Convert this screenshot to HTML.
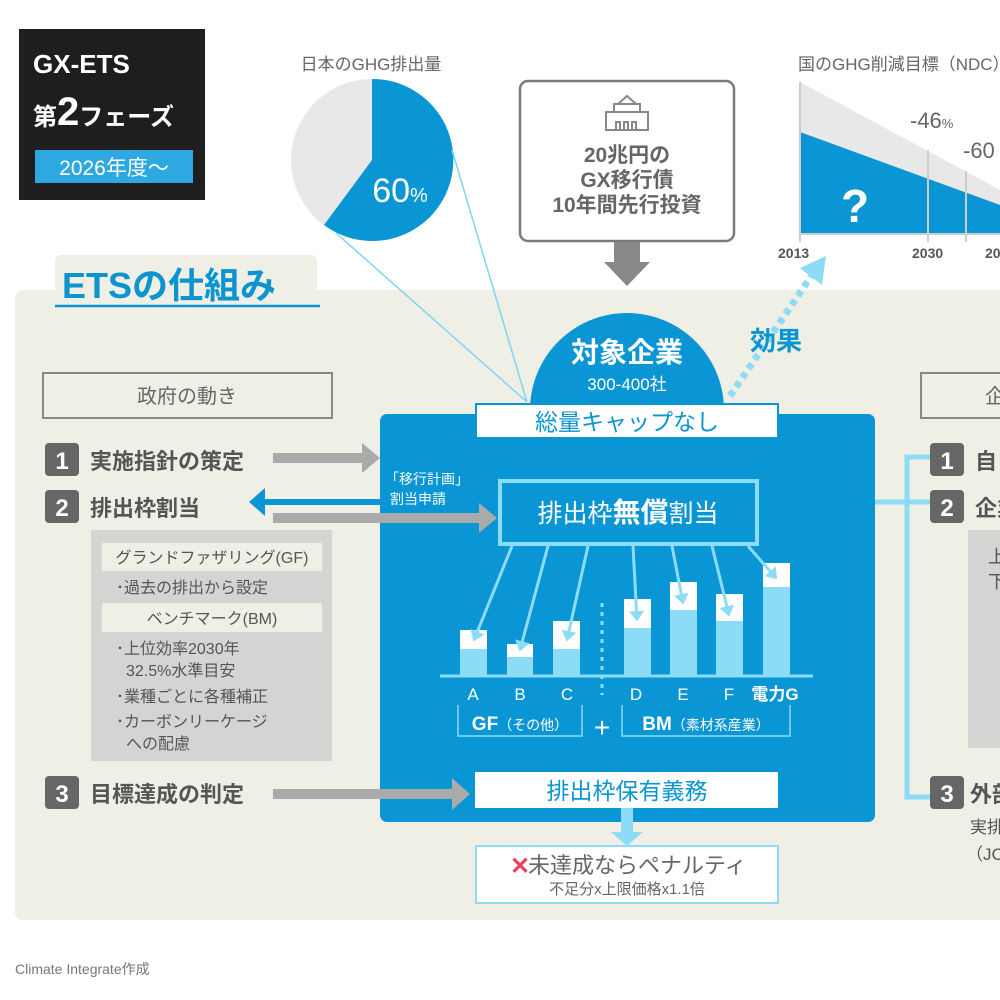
<!DOCTYPE html>
<html><head><meta charset="utf-8"><style>
html,body{margin:0;padding:0;background:#fff;}
svg{display:block;font-family:"Liberation Sans","Noto Sans CJK JP",sans-serif;}
</style></head><body>
<svg width="1000" height="1000" viewBox="0 0 1000 1000" xmlns="http://www.w3.org/2000/svg">
<defs>
<marker id="al" markerWidth="5" markerHeight="5" refX="3" refY="2.5" orient="auto" markerUnits="strokeWidth"><path d="M0,0 L3.5,2.5 L0,5 Z" fill="#8ddcf7"/></marker>
</defs>

<rect x="19" y="29" width="186" height="171" fill="#1e1e1e"/>
<text x="33" y="73" fill="#fff" font-size="26" font-weight="bold">GX-ETS</text>
<text x="33" y="125" fill="#fff" font-size="24" font-weight="bold">第<tspan font-size="40">2</tspan>フェーズ</text>
<rect x="35" y="150" width="158" height="33" fill="#2ea8e0"/>
<text x="114" y="175" fill="#fff" font-size="21" text-anchor="middle">2026年度〜</text>

<text x="371" y="70" fill="#666" font-size="17" text-anchor="middle">日本のGHG排出量</text>
<circle cx="372" cy="160" r="81" fill="#e8e8e8"/>
<path d="M372,160 L372,79 A81,81 0 1,1 324,225 Z" fill="#0a96d4"/>
<text x="400" y="202" fill="#fff" font-size="34" text-anchor="middle">60<tspan font-size="20">%</tspan></text>

<rect x="520" y="81" width="214" height="160" rx="8" fill="#fff" stroke="#7a7a7a" stroke-width="2.5"/>
<g fill="none" stroke="#888" stroke-width="2">
<rect x="606" y="112" width="42" height="18"/><path d="M614,112 v-8 h26 v8 M618,104 l9,-8 l9,8"/><path d="M616,130 v-8 h4 v8 M624,130 v-8 h4 v8 M632,130 v-8 h4 v8"/>
</g>
<text x="627" y="162" fill="#666" font-size="21" font-weight="bold" text-anchor="middle">20兆円の</text>
<text x="627" y="187" fill="#666" font-size="21" font-weight="bold" text-anchor="middle">GX移行債</text>
<text x="627" y="212" fill="#666" font-size="21" font-weight="bold" text-anchor="middle">10年間先行投資</text>
<path d="M614,242 h26 v20 h10 l-23,24 l-23,-24 h10 Z" fill="#888"/>

<text x="798" y="70" fill="#666" font-size="17">国のGHG削減目標（NDC）</text>
<path d="M800,82 L1000,190 L1000,233 L800,233 Z" fill="#e8e8e8"/>
<path d="M800,132 L1000,205 L1000,233 L800,233 Z" fill="#0a96d4"/>
<g stroke="#ccc" stroke-width="2"><line x1="800" y1="82" x2="800" y2="242"/><line x1="928" y1="150" x2="928" y2="242"/><line x1="966" y1="171" x2="966" y2="242"/><line x1="800" y1="234" x2="1000" y2="234"/></g>
<text x="855" y="222" fill="#fff" font-size="46" font-weight="bold" text-anchor="middle">?</text>
<text x="910" y="128" fill="#666" font-size="22">-46<tspan font-size="13">%</tspan></text>
<text x="963" y="158" fill="#666" font-size="22">-60</text>
<g fill="#555" font-size="14" font-weight="bold"><text x="778" y="258">2013</text><text x="912" y="258">2030</text><text x="985" y="258">20</text></g>

<rect x="15" y="290" width="1000" height="630" rx="8" fill="#efefe6"/>
<rect x="55" y="255" width="262" height="40" rx="6" fill="#efefe6"/>
<text x="62" y="298" fill="#0a95d0" font-size="36" font-weight="bold">ETSの仕組み</text>
<line x1="55" y1="306" x2="320" y2="306" stroke="#0a95d0" stroke-width="2.5"/>

<line x1="336" y1="233" x2="527" y2="402" stroke="#7dd6f5" stroke-width="1.5"/>
<line x1="452" y1="150" x2="527" y2="402" stroke="#7dd6f5" stroke-width="1.5"/>

<line x1="730" y1="396" x2="812" y2="275" stroke="#8ddcf7" stroke-width="7" stroke-dasharray="6,5"/>
<path d="M800,268 L826,256 L822,285 Z" fill="#8ddcf7"/>
<text x="750" y="350" fill="#0a95d0" font-size="26" font-weight="bold">効果</text>

<rect x="380" y="414" width="495" height="408" rx="7" fill="#0a96d4"/>
<path d="M530,410 A97,97 0 0,1 724,410 Z" fill="#0a96d4"/>
<text x="627" y="362" fill="#fff" font-size="28" font-weight="bold" text-anchor="middle">対象企業</text>
<text x="627" y="390" fill="#fff" font-size="17" text-anchor="middle">300-400社</text>
<rect x="476" y="404" width="302" height="34" fill="#fff" stroke="#0a96d4" stroke-width="2"/>
<text x="627" y="430" fill="#0a95d0" font-size="23" text-anchor="middle">総量キャップなし</text>

<text x="385" y="484" fill="#fff" font-size="14">「移行計画」</text>
<text x="390" y="504" fill="#fff" font-size="14">割当申請</text>
<rect x="500" y="481" width="257" height="63" fill="none" stroke="#8ddcf7" stroke-width="4"/>
<text x="628" y="522" fill="#fff" font-size="25" text-anchor="middle">排出枠<tspan font-weight="bold" font-size="28">無償</tspan>割当</text>

<g fill="#fff"><rect x="460" y="630" width="27" height="46"/><rect x="507" y="644" width="26" height="32"/><rect x="553" y="621" width="27" height="55"/><rect x="624" y="599" width="27" height="77"/><rect x="670" y="582" width="27" height="94"/><rect x="716" y="594" width="27" height="82"/><rect x="763" y="563" width="27" height="113"/></g>
<g fill="#8ddcf7"><rect x="460" y="649" width="27" height="27"/><rect x="507" y="657" width="26" height="19"/><rect x="553" y="649" width="27" height="27"/><rect x="624" y="628" width="27" height="48"/><rect x="670" y="610" width="27" height="66"/><rect x="716" y="621" width="27" height="55"/><rect x="763" y="587" width="27" height="89"/></g>
<line x1="440" y1="676" x2="813" y2="676" stroke="#8ddcf7" stroke-width="3"/>
<line x1="602" y1="603" x2="602" y2="695" stroke="#8ddcf7" stroke-width="3" stroke-dasharray="4,5"/>
<g stroke="#8ddcf7" stroke-width="3" marker-end="url(#al)">
<line x1="512" y1="546" x2="474" y2="640"/><line x1="548" y1="546" x2="520" y2="650"/><line x1="588" y1="546" x2="567" y2="640"/><line x1="633" y1="546" x2="637" y2="620"/><line x1="672" y1="546" x2="683" y2="603"/><line x1="712" y1="546" x2="729" y2="615"/><line x1="748" y1="546" x2="776" y2="578"/>
</g>
<g fill="#fff" font-size="17" text-anchor="middle"><text x="473" y="700">A</text><text x="520" y="700">B</text><text x="567" y="700">C</text><text x="636" y="700">D</text><text x="683" y="700">E</text><text x="729" y="700">F</text><text x="775" y="700" font-weight="bold">電力G</text></g>
<path d="M458,705 V736 H582 V705 M622,705 V736 H790 V705" fill="none" stroke="#8ddcf7" stroke-width="1.5"/>
<text x="520" y="730" fill="#fff" font-size="19" font-weight="bold" text-anchor="middle">GF<tspan font-size="14" font-weight="normal">（その他）</tspan></text>
<text x="602" y="737" fill="#fff" font-size="28" text-anchor="middle">+</text>
<text x="706" y="730" fill="#fff" font-size="19" font-weight="bold" text-anchor="middle">BM<tspan font-size="14" font-weight="normal">（素材系産業）</tspan></text>

<rect x="475" y="772" width="303" height="36" fill="#fff"/>
<text x="627" y="799" fill="#0a95d0" font-size="23" text-anchor="middle">排出枠保有義務</text>
<path d="M621,808 h12 v24 h10 l-16,14 l-16,-14 h10 Z" fill="#8ddcf7"/>
<rect x="476" y="846" width="302" height="57" fill="#fff" stroke="#8ddcf7" stroke-width="2"/>
<text x="510" y="874" fill="#e8425a" font-size="24" font-weight="bold">✕</text>
<text x="528" y="873" fill="#666" font-size="22">未達成ならペナルティ</text>
<text x="627" y="894" fill="#666" font-size="15" text-anchor="middle">不足分x上限価格x1.1倍</text>

<rect x="43" y="373" width="289" height="45" fill="none" stroke="#888" stroke-width="2"/>
<text x="187" y="403" fill="#666" font-size="20" text-anchor="middle">政府の動き</text>
<g fill="#666"><rect x="45" y="443" width="34" height="33" rx="4"/><rect x="45" y="490" width="34" height="33" rx="4"/><rect x="45" y="776" width="34" height="33" rx="4"/></g>
<g fill="#fff" font-size="24" font-weight="bold" text-anchor="middle"><text x="62" y="469">1</text><text x="62" y="516">2</text><text x="62" y="802">3</text></g>
<g fill="#555" font-size="22" font-weight="bold"><text x="90" y="469">実施指針の策定</text><text x="90" y="516">排出枠割当</text><text x="90" y="802">目標達成の判定</text></g>
<g fill="#aaa">
<rect x="273" y="453" width="92" height="10"/><path d="M362,443 L380,458 L362,473 Z"/>
<rect x="273" y="513" width="208" height="10"/><path d="M479,503 L497,518 L479,533 Z"/>
<rect x="273" y="789" width="182" height="10"/><path d="M452,778 L470,794 L452,810 Z"/>
</g>
<rect x="263" y="499" width="117" height="6" fill="#0a96d4"/>
<path d="M265,488 L249,502 L265,516 Z" fill="#0a96d4"/>

<rect x="91" y="530" width="241" height="231" fill="#d4d4d2"/>
<rect x="102" y="543" width="220" height="28" fill="#efefe6"/>
<rect x="102" y="603" width="220" height="29" fill="#efefe6"/>
<g fill="#555" font-size="16">
<text x="212" y="563" text-anchor="middle">グランドファザリング(GF)</text>
<text x="116" y="593">･過去の排出から設定</text>
<text x="212" y="624" text-anchor="middle">ベンチマーク(BM)</text>
<text x="116" y="654">･上位効率2030年</text>
<text x="126" y="676">32.5%水準目安</text>
<text x="116" y="702">･業種ごとに各種補正</text>
<text x="116" y="727">･カーボンリーケージ</text>
<text x="126" y="749">への配慮</text>
</g>

<line x1="875" y1="502" x2="930" y2="502" stroke="#8ddcf7" stroke-width="5"/>
<path d="M930,457 H907 V797 H930" fill="none" stroke="#8ddcf7" stroke-width="5"/>
<rect x="921" y="373" width="90" height="45" fill="none" stroke="#888" stroke-width="2"/>
<text x="985" y="403" fill="#666" font-size="20">企</text>
<g fill="#666"><rect x="930" y="443" width="34" height="33" rx="4"/><rect x="930" y="490" width="34" height="33" rx="4"/><rect x="930" y="776" width="34" height="33" rx="4"/></g>
<g fill="#fff" font-size="24" font-weight="bold" text-anchor="middle"><text x="947" y="469">1</text><text x="947" y="516">2</text><text x="947" y="802">3</text></g>
<g fill="#555" font-size="22" font-weight="bold"><text x="975" y="469">自</text><text x="975" y="516">企業</text><text x="970" y="802">外部</text></g>
<rect x="968" y="530" width="40" height="218" fill="#d4d4d2"/>
<g fill="#555" font-size="18"><text x="988" y="563">上</text><text x="988" y="588">下</text></g>
<g fill="#555" font-size="17"><text x="970" y="833">実排</text><text x="966" y="860">（JC</text></g>

<text x="15" y="974" fill="#777" font-size="14">Climate Integrate作成</text>
</svg>
</body></html>
